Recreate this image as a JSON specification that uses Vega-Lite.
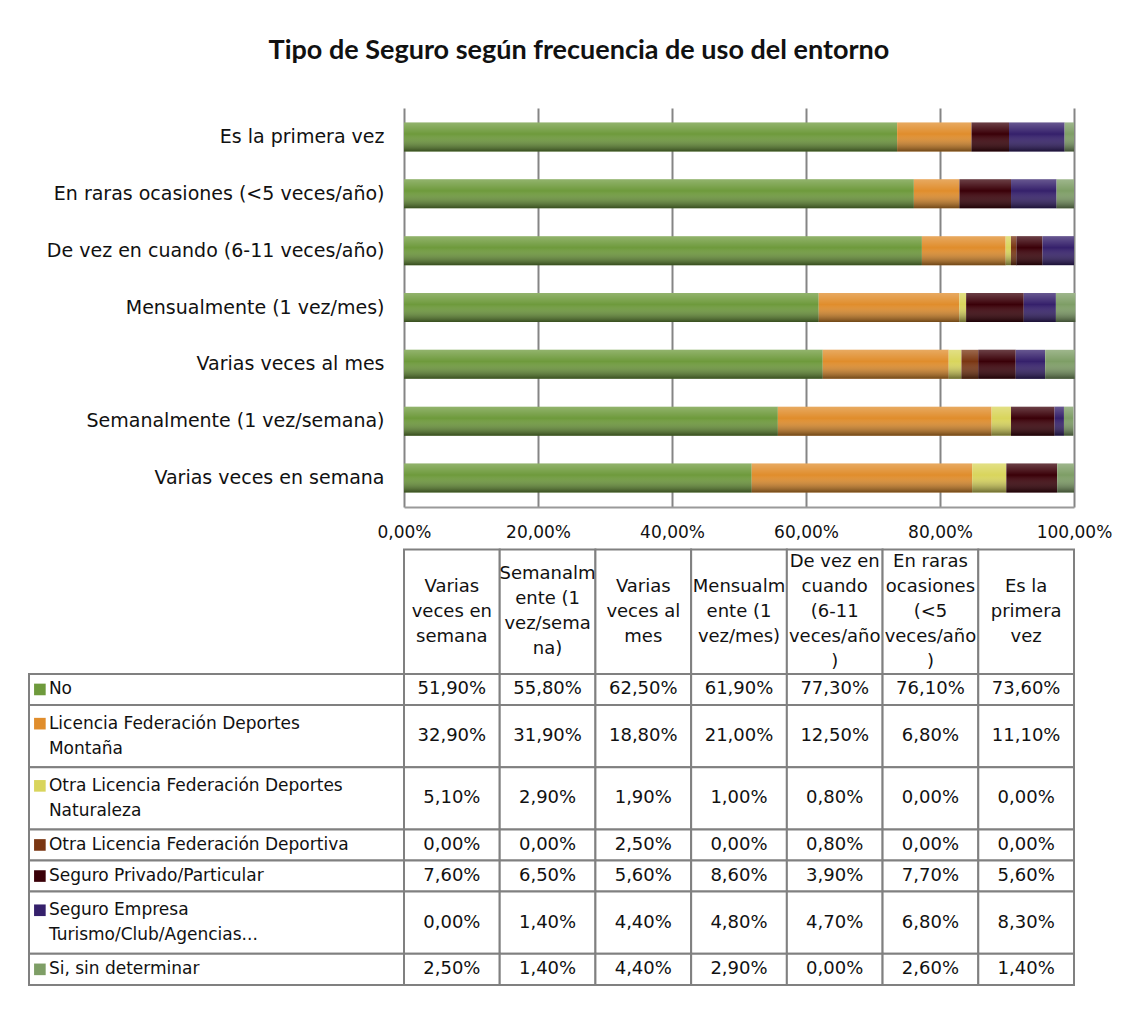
{
  "$schema": "https://vega.github.io/schema/vega-lite/v6.json",
  "padding": {"left": 28, "top": 37, "right": 10, "bottom": 10},
  "config": {
    "locale": {"number": {"decimal": ",", "thousands": ".", "grouping": [3], "currency": ["", " €"]}},
    "view": {"stroke": null},
    "font": "DejaVu Sans",
    "text": {"font": "DejaVu Sans", "color": "#111111"},
    "axis": {"labelFont": "DejaVu Sans", "labelColor": "#111111"}
  },
  "title": {
    "text": "Tipo de Seguro según frecuencia de uso del entorno",
    "font": "Lato",
    "fontSize": 27,
    "fontWeight": "bold",
    "color": "#111111",
    "anchor": "middle",
    "offset": 43,
    "dx": 9
  },
  "datasets": {
    "series": [
      {"serie": "No", "etiqueta": "No", "orden": 1},
      {"serie": "Licencia Federación Deportes Montaña", "etiqueta": "Licencia Federación Deportes\nMontaña", "orden": 2},
      {"serie": "Otra Licencia Federación Deportes Naturaleza", "etiqueta": "Otra Licencia Federación Deportes\nNaturaleza", "orden": 3},
      {"serie": "Otra Licencia Federación Deportiva", "etiqueta": "Otra Licencia Federación Deportiva", "orden": 4},
      {"serie": "Seguro Privado/Particular", "etiqueta": "Seguro Privado/Particular", "orden": 5},
      {"serie": "Seguro Empresa Turismo/Club/Agencias...", "etiqueta": "Seguro Empresa\nTurismo/Club/Agencias...", "orden": 6},
      {"serie": "Si, sin determinar", "etiqueta": "Si, sin determinar", "orden": 7}
    ],
    "frecuencias": [
      {"freq": "Varias veces en semana", "cabecera": "Varias\nveces en\nsemana"},
      {"freq": "Semanalmente (1 vez/semana)", "cabecera": "Semanalm\nente (1\nvez/sema\nna)"},
      {"freq": "Varias veces al mes", "cabecera": "Varias\nveces al\nmes"},
      {"freq": "Mensualmente (1 vez/mes)", "cabecera": "Mensualm\nente (1\nvez/mes)"},
      {"freq": "De vez en cuando (6-11 veces/año)", "cabecera": "De vez en\ncuando\n(6-11\nveces/año\n)"},
      {"freq": "En raras ocasiones (<5 veces/año)", "cabecera": "En raras\nocasiones\n(<5\nveces/año\n)"},
      {"freq": "Es la primera vez", "cabecera": "Es la\nprimera\nvez"}
    ],
    "valores": [
      {"serie": "No", "freq": "Varias veces en semana", "valor": 0.519},
      {"serie": "No", "freq": "Semanalmente (1 vez/semana)", "valor": 0.558},
      {"serie": "No", "freq": "Varias veces al mes", "valor": 0.625},
      {"serie": "No", "freq": "Mensualmente (1 vez/mes)", "valor": 0.619},
      {"serie": "No", "freq": "De vez en cuando (6-11 veces/año)", "valor": 0.773},
      {"serie": "No", "freq": "En raras ocasiones (<5 veces/año)", "valor": 0.761},
      {"serie": "No", "freq": "Es la primera vez", "valor": 0.736},
      {"serie": "Licencia Federación Deportes Montaña", "freq": "Varias veces en semana", "valor": 0.329},
      {"serie": "Licencia Federación Deportes Montaña", "freq": "Semanalmente (1 vez/semana)", "valor": 0.319},
      {"serie": "Licencia Federación Deportes Montaña", "freq": "Varias veces al mes", "valor": 0.188},
      {"serie": "Licencia Federación Deportes Montaña", "freq": "Mensualmente (1 vez/mes)", "valor": 0.21},
      {"serie": "Licencia Federación Deportes Montaña", "freq": "De vez en cuando (6-11 veces/año)", "valor": 0.125},
      {"serie": "Licencia Federación Deportes Montaña", "freq": "En raras ocasiones (<5 veces/año)", "valor": 0.068},
      {"serie": "Licencia Federación Deportes Montaña", "freq": "Es la primera vez", "valor": 0.111},
      {"serie": "Otra Licencia Federación Deportes Naturaleza", "freq": "Varias veces en semana", "valor": 0.051},
      {"serie": "Otra Licencia Federación Deportes Naturaleza", "freq": "Semanalmente (1 vez/semana)", "valor": 0.029},
      {"serie": "Otra Licencia Federación Deportes Naturaleza", "freq": "Varias veces al mes", "valor": 0.019},
      {"serie": "Otra Licencia Federación Deportes Naturaleza", "freq": "Mensualmente (1 vez/mes)", "valor": 0.01},
      {"serie": "Otra Licencia Federación Deportes Naturaleza", "freq": "De vez en cuando (6-11 veces/año)", "valor": 0.008},
      {"serie": "Otra Licencia Federación Deportes Naturaleza", "freq": "En raras ocasiones (<5 veces/año)", "valor": 0.0},
      {"serie": "Otra Licencia Federación Deportes Naturaleza", "freq": "Es la primera vez", "valor": 0.0},
      {"serie": "Otra Licencia Federación Deportiva", "freq": "Varias veces en semana", "valor": 0.0},
      {"serie": "Otra Licencia Federación Deportiva", "freq": "Semanalmente (1 vez/semana)", "valor": 0.0},
      {"serie": "Otra Licencia Federación Deportiva", "freq": "Varias veces al mes", "valor": 0.025},
      {"serie": "Otra Licencia Federación Deportiva", "freq": "Mensualmente (1 vez/mes)", "valor": 0.0},
      {"serie": "Otra Licencia Federación Deportiva", "freq": "De vez en cuando (6-11 veces/año)", "valor": 0.008},
      {"serie": "Otra Licencia Federación Deportiva", "freq": "En raras ocasiones (<5 veces/año)", "valor": 0.0},
      {"serie": "Otra Licencia Federación Deportiva", "freq": "Es la primera vez", "valor": 0.0},
      {"serie": "Seguro Privado/Particular", "freq": "Varias veces en semana", "valor": 0.076},
      {"serie": "Seguro Privado/Particular", "freq": "Semanalmente (1 vez/semana)", "valor": 0.065},
      {"serie": "Seguro Privado/Particular", "freq": "Varias veces al mes", "valor": 0.056},
      {"serie": "Seguro Privado/Particular", "freq": "Mensualmente (1 vez/mes)", "valor": 0.086},
      {"serie": "Seguro Privado/Particular", "freq": "De vez en cuando (6-11 veces/año)", "valor": 0.039},
      {"serie": "Seguro Privado/Particular", "freq": "En raras ocasiones (<5 veces/año)", "valor": 0.077},
      {"serie": "Seguro Privado/Particular", "freq": "Es la primera vez", "valor": 0.056},
      {"serie": "Seguro Empresa Turismo/Club/Agencias...", "freq": "Varias veces en semana", "valor": 0.0},
      {"serie": "Seguro Empresa Turismo/Club/Agencias...", "freq": "Semanalmente (1 vez/semana)", "valor": 0.014},
      {"serie": "Seguro Empresa Turismo/Club/Agencias...", "freq": "Varias veces al mes", "valor": 0.044},
      {"serie": "Seguro Empresa Turismo/Club/Agencias...", "freq": "Mensualmente (1 vez/mes)", "valor": 0.048},
      {"serie": "Seguro Empresa Turismo/Club/Agencias...", "freq": "De vez en cuando (6-11 veces/año)", "valor": 0.047},
      {"serie": "Seguro Empresa Turismo/Club/Agencias...", "freq": "En raras ocasiones (<5 veces/año)", "valor": 0.068},
      {"serie": "Seguro Empresa Turismo/Club/Agencias...", "freq": "Es la primera vez", "valor": 0.083},
      {"serie": "Si, sin determinar", "freq": "Varias veces en semana", "valor": 0.025},
      {"serie": "Si, sin determinar", "freq": "Semanalmente (1 vez/semana)", "valor": 0.014},
      {"serie": "Si, sin determinar", "freq": "Varias veces al mes", "valor": 0.044},
      {"serie": "Si, sin determinar", "freq": "Mensualmente (1 vez/mes)", "valor": 0.029},
      {"serie": "Si, sin determinar", "freq": "De vez en cuando (6-11 veces/año)", "valor": 0.0},
      {"serie": "Si, sin determinar", "freq": "En raras ocasiones (<5 veces/año)", "valor": 0.026},
      {"serie": "Si, sin determinar", "freq": "Es la primera vez", "valor": 0.014}
    ]
  },
  "bounds": "flush",
  "columns": 2,
  "spacing": {"row": 42.5, "column": 0},
  "concat": [
    {
      "width": 375,
      "height": 399,
      "data": {"values": [{}]},
      "mark": {"type": "point", "opacity": 0}
    },
    {
      "width": 670,
      "height": 399,
      "data": {"name": "valores"},
      "transform": [
        {"lookup": "serie", "from": {"data": {"name": "series"}, "key": "serie", "fields": ["orden"]}}
      ],
      "encoding": {
        "y": {
          "field": "freq",
          "type": "nominal",
          "sort": ["Es la primera vez", "En raras ocasiones (<5 veces/año)", "De vez en cuando (6-11 veces/año)", "Mensualmente (1 vez/mes)", "Varias veces al mes", "Semanalmente (1 vez/semana)", "Varias veces en semana"],
          "scale": {"paddingInner": 0.49, "paddingOuter": 0.255},
          "axis": {"title": null, "domain": false, "ticks": false, "labelFontSize": 19, "labelPadding": 20, "labelLimit": 400}
        },
        "x": {
          "field": "valor",
          "type": "quantitative",
          "stack": "zero",
          "scale": {"domain": [0, 1], "nice": false},
          "axis": {"title": null, "format": ".2%", "values": [0, 0.2, 0.4, 0.6, 0.8, 1], "grid": true, "gridColor": "#858585", "gridWidth": 2, "domainColor": "#9a9a9a", "domainWidth": 2, "ticks": false, "labelPadding": 17, "labelFontSize": 17, "labelFlush": false}
        },
        "order": {"field": "orden", "type": "quantitative"}
      },
      "layer": [
        {
          "mark": {"type": "bar"},
          "encoding": {
            "color": {
              "field": "serie",
              "type": "nominal",
              "legend": null,
              "scale": {
                "domain": ["No", "Licencia Federación Deportes Montaña", "Otra Licencia Federación Deportes Naturaleza", "Otra Licencia Federación Deportiva", "Seguro Privado/Particular", "Seguro Empresa Turismo/Club/Agencias...", "Si, sin determinar"],
                "range": ["#6e9a3c", "#e08d2c", "#d9d55c", "#7a3612", "#3a0008", "#35206b", "#7e9e66"]
              }
            }
          }
        },
        {
          "mark": {
            "type": "bar",
            "fill": {
              "gradient": "linear",
              "x1": 0, "y1": 0, "x2": 0, "y2": 1,
              "stops": [
                {"offset": 0, "color": "rgba(255,255,255,0.25)"},
                {"offset": 0.4, "color": "rgba(255,255,255,0)"},
                {"offset": 1, "color": "rgba(0,0,0,0.5)"}
              ]
            }
          },
          "encoding": {"detail": {"field": "serie", "type": "nominal"}}
        }
      ]
    },
    {
      "width": 375,
      "height": 435.4,
      "data": {"name": "series"},
      "transform": [
        {"calculate": "length(split(datum.etiqueta, '\\n'))", "as": "lineas"},
        {"window": [{"op": "sum", "field": "lineas", "as": "fin"}], "sort": [{"field": "orden"}], "frame": [null, 0]},
        {"calculate": "datum.fin - datum.lineas", "as": "ini"},
        {"calculate": "datum.fin - datum.lineas / 2 - (datum.lineas - 1) * 0.4", "as": "primera"}
      ],
      "layer": [
        {
          "mark": {"type": "rect", "fill": "white", "stroke": "#808080", "strokeWidth": 2},
          "encoding": {
            "y": {"field": "ini", "type": "quantitative", "scale": {"domain": [-4, 10], "reverse": true, "nice": false, "zero": false}, "axis": null},
            "y2": {"field": "fin"}
          }
        },
        {
          "mark": {"type": "point", "shape": "square", "filled": true, "size": 135, "opacity": 1},
          "encoding": {
            "x": {"datum": 0.029, "type": "quantitative", "scale": {"domain": [0, 1], "nice": false}, "axis": null},
            "y": {"field": "primera", "type": "quantitative", "axis": null},
            "color": {
              "field": "serie",
              "type": "nominal",
              "legend": null,
              "scale": {
                "domain": ["No", "Licencia Federación Deportes Montaña", "Otra Licencia Federación Deportes Naturaleza", "Otra Licencia Federación Deportiva", "Seguro Privado/Particular", "Seguro Empresa Turismo/Club/Agencias...", "Si, sin determinar"],
                "range": ["#6e9a3c", "#e08d2c", "#d9d55c", "#7a3612", "#3a0008", "#35206b", "#7e9e66"]
              }
            }
          }
        },
        {
          "mark": {"type": "text", "align": "left", "baseline": "middle", "lineBreak": "\n", "fontSize": 17, "lineHeight": 25},
          "encoding": {
            "x": {"datum": 0.053, "type": "quantitative"},
            "y": {"field": "primera", "type": "quantitative"},
            "text": {"field": "etiqueta", "type": "nominal"}
          }
        }
      ]
    },
    {
      "width": 670,
      "height": 435.4,
      "encoding": {
        "x": {
          "field": "freq",
          "type": "nominal",
          "sort": ["Varias veces en semana", "Semanalmente (1 vez/semana)", "Varias veces al mes", "Mensualmente (1 vez/mes)", "De vez en cuando (6-11 veces/año)", "En raras ocasiones (<5 veces/año)", "Es la primera vez"],
          "scale": {"paddingInner": 0, "paddingOuter": 0},
          "axis": null
        }
      },
      "layer": [
        {
          "data": {"name": "frecuencias"},
          "mark": {"type": "rect", "fill": "white", "stroke": "#808080", "strokeWidth": 2},
          "encoding": {
            "y": {"datum": -4, "type": "quantitative", "scale": {"domain": [-4, 10], "reverse": true, "nice": false, "zero": false}, "axis": null},
            "y2": {"datum": 0}
          }
        },
        {
          "data": {"name": "frecuencias"},
          "transform": [
            {"calculate": "length(split(datum.cabecera, '\\n'))", "as": "lineas"},
            {"calculate": "-2 - (datum.lineas - 1) * 0.4", "as": "primera"}
          ],
          "mark": {"type": "text", "lineBreak": "\n", "fontSize": 18, "lineHeight": 25, "baseline": "middle", "align": "center"},
          "encoding": {
            "y": {"field": "primera", "type": "quantitative"},
            "text": {"field": "cabecera", "type": "nominal"}
          }
        },
        {
          "data": {"name": "valores"},
          "transform": [
            {"lookup": "serie", "from": {"data": {"name": "series"}, "key": "serie", "fields": ["orden", "etiqueta"]}},
            {"calculate": "length(split(datum.etiqueta, '\\n'))", "as": "lineas"},
            {"window": [{"op": "sum", "field": "lineas", "as": "fin"}], "groupby": ["freq"], "sort": [{"field": "orden"}], "frame": [null, 0]},
            {"calculate": "datum.fin - datum.lineas", "as": "ini"},
            {"calculate": "datum.fin - datum.lineas / 2", "as": "medio"}
          ],
          "layer": [
            {
              "mark": {"type": "rect", "fill": "white", "stroke": "#808080", "strokeWidth": 2},
              "encoding": {
                "y": {"field": "ini", "type": "quantitative"},
                "y2": {"field": "fin"}
              }
            },
            {
              "mark": {"type": "text", "fontSize": 18, "baseline": "middle", "align": "center"},
              "encoding": {
                "y": {"field": "medio", "type": "quantitative"},
                "text": {"field": "valor", "type": "quantitative", "format": ".2%"}
              }
            }
          ]
        }
      ]
    }
  ]
}
